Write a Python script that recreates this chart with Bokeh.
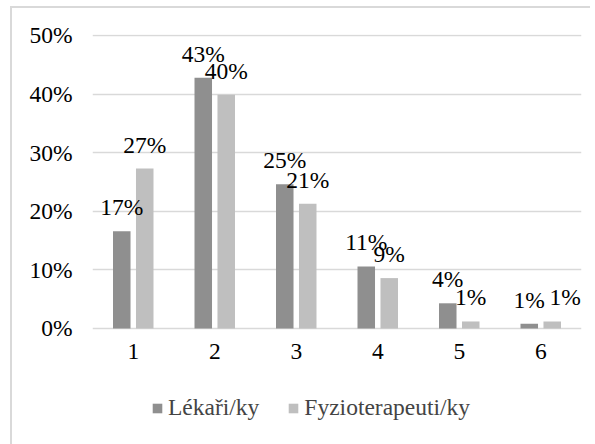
from bokeh.plotting import figure
from bokeh.models import FixedTicker, PrintfTickFormatter, Legend, LegendItem, LinearAxis
from bokeh.core.properties import value
from bokeh.embed import file_html
from bokeh.resources import INLINE

# Data: share of respondents per answer category (percent)
categories = ["1", "2", "3", "4", "5", "6"]
lekari = [16.6, 42.8, 24.6, 10.6, 4.3, 0.8]
fyzio = [27.3, 39.9, 21.3, 8.6, 1.2, 1.2]
series_names = ["Lékaři/ky", "Fyzioterapeuti/ky"]
y_ticks = [0, 10, 20, 30, 40, 50]

FONT = "'Liberation Serif'"
FONT_SIZE = "23.5px"
DARK = "#8f8f8f"
LIGHT = "#bfbfbf"
GRID = "#d9d9d9"

BAR_W = 0.215
OFFSET = 0.141

xs = [i + 1 for i in range(len(categories))]
x_dark = [x - OFFSET for x in xs]
x_light = [x + OFFSET for x in xs]

# 5.86 px per percentage point; the frame runs down to the canvas bottom
# so the legend can sit inside it, below the category axis
p = figure(
    width=595, height=444,
    output_backend="svg", toolbar_location=None,
    x_range=(0.5, 6.5), y_range=(-19.795, 50.17),
    x_axis_location=None,
    min_border_left=92, min_border_right=14,
    min_border_top=34, min_border_bottom=0,
)
p.outline_line_color = None
p.border_fill_color = None
p.background_fill_color = "white"
# chart-area frame (top and left edges), drawn as the host element background
p.styles = {
    "background": (
        f"linear-gradient({GRID},{GRID}) 10px 6px / 580px 2px no-repeat, "
        f"linear-gradient({GRID},{GRID}) 10px 6px / 2px 440px no-repeat, white"
    )
}

p.xgrid.grid_line_color = None
p.ygrid.grid_line_color = GRID
p.ygrid.grid_line_width = 1.5
p.ygrid.ticker = FixedTicker(ticks=y_ticks)

p.yaxis.ticker = FixedTicker(ticks=y_ticks)
p.yaxis.formatter = PrintfTickFormatter(format="%d%%")

xaxis = LinearAxis(fixed_location=0, ticker=FixedTicker(ticks=xs),
                   major_label_overrides={x: c for x, c in zip(xs, categories)})
p.add_layout(xaxis, "below")

for ax in (xaxis, p.yaxis[0]):
    ax.axis_line_color = None
    ax.major_tick_line_color = None
    ax.minor_tick_line_color = None
    ax.major_tick_in = 0
    ax.major_tick_out = 0
    ax.major_label_text_font = FONT
    ax.major_label_text_font_size = FONT_SIZE
    ax.major_label_text_color = "black"
p.yaxis.major_label_standoff = 20
xaxis.major_label_standoff = 16

r_dark = p.vbar(x=x_dark, top=lekari, width=BAR_W, bottom=0,
                fill_color=DARK, line_color=None)
r_light = p.vbar(x=x_light, top=fyzio, width=BAR_W, bottom=0,
                 fill_color=LIGHT, line_color=None)

# value labels above the bars; the last light label is nudged right so it
# does not collide with its neighbour
label_shift = {"dark": [0, 0, 0, 0, 0, 0], "light": [0, 0, 0, 0, 0, 13]}
for key, xv, vals in (("dark", x_dark, lekari), ("light", x_light, fyzio)):
    p.text(x=xv, y=vals, text=[f"{round(v + 1e-9):d}%" for v in vals],
           x_offset=label_shift[key],
           text_align="center", text_baseline="alphabetic", y_offset=-24,
           text_font=value(FONT), text_font_size=FONT_SIZE, text_color="black")

legend = Legend(
    items=[LegendItem(label=series_names[0], renderers=[r_dark]),
           LegendItem(label=series_names[1], renderers=[r_light])],
    orientation="horizontal", location=(59, 23),
    glyph_width=12, glyph_height=12, label_standoff=5, spacing=28,
    padding=0, margin=0, border_line_color=None, background_fill_alpha=0,
    label_text_font=FONT, label_text_font_size=FONT_SIZE,
)
p.add_layout(legend, "center")

open("out.html", "w").write(file_html(p, INLINE))
